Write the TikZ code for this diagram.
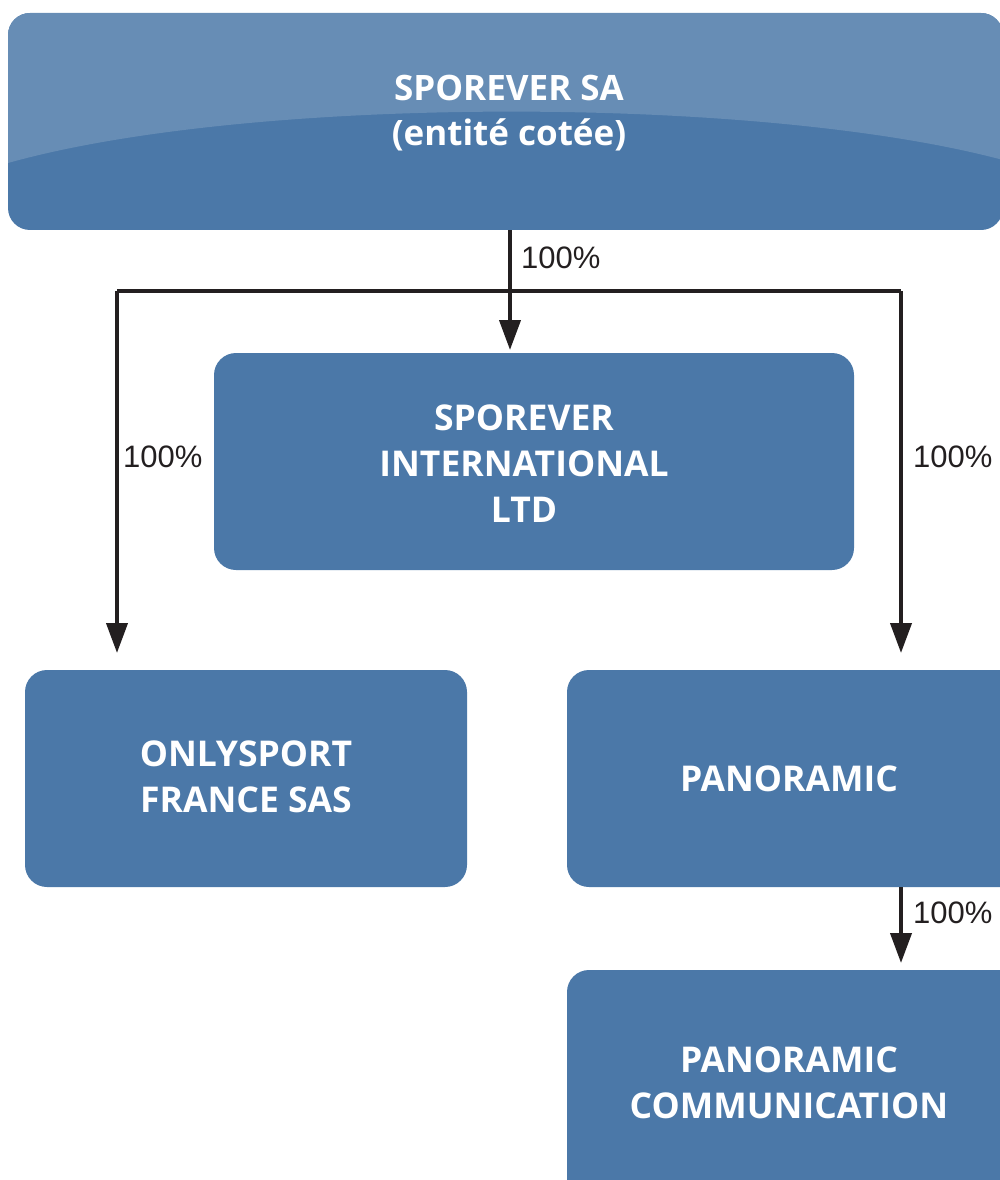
\documentclass[tikz,border=0pt]{standalone}
\usepackage{fontspec}
\setmainfont{Liberation Sans}
\newfontfamily\boxfont{Open Sans}
\usetikzlibrary{arrows.meta}
\definecolor{boxblue}{HTML}{4B78A8}
\definecolor{lightblue}{HTML}{678DB5}
\definecolor{arrowgray}{HTML}{231F20}
\begin{document}
\begin{tikzpicture}[x=1pt,y=-1pt,
  entity/.style={fill=boxblue, rounded corners=22pt, inner sep=0pt, text=white,
    font=\boxfont\bfseries\fontsize{35.5}{46}\selectfont, align=center},
  link/.style={draw=arrowgray, line width=4pt, -{Triangle[length=30pt,width=21pt]}},
  line/.style={draw=arrowgray, line width=4pt},
  pct/.style={font=\fontsize{31}{36}\selectfont, text=arrowgray, inner sep=0pt, anchor=west}]
\useasboundingbox (0,0) rectangle (999,1180);
% top box
\begin{scope}
\path[clip, rounded corners=22pt] (8,13) rectangle (1003,230);
\fill[boxblue] (8,13) rectangle (1003,230);
\fill[lightblue] (8,13) -- (8,163) .. controls (250,95) and (760,95) .. (1003,160) -- (1003,13) -- cycle;
\end{scope}
\node[font=\boxfont\bfseries\fontsize{35}{45}\selectfont, text=white, align=center] (top) at (509,113) {SPOREVER SA\\(entité cotée)};
\coordinate (topb) at (510,230);
% boxes
\path[entity] (214,353) rectangle (854,570);
\node[entity, fill=none] (intl) at (524,464) {SPOREVER\\INTERNATIONAL\\LTD};
\path[entity] (25,670) rectangle (467,887);
\node[entity, fill=none] (only) at (246,777) {ONLYSPORT\\FRANCE SAS};
\path[entity] (567,670) rectangle (1030,887);
\node[entity, fill=none] (pano) at (789,779) {PANORAMIC};
\path[entity] (567,970) rectangle (1030,1210);
\node[entity, fill=none] (panoc) at (789,1083) {PANORAMIC\\COMMUNICATION};
% connectors
\coordinate (hl) at (117,291);
\coordinate (hr) at (901,291);
\coordinate (tipm) at (510,350);
\coordinate (tipl) at (117,653);
\coordinate (tipr) at (901,653);
\coordinate (pb) at (901,887);
\coordinate (tipp) at (901,963);
\draw[line] (hl) -- (hr);
\draw[link] (topb) -- (tipm);
\draw[link] (hl) -- (tipl);
\draw[link] (hr) -- (tipr);
\draw[link] (pb) -- (tipp);
% labels
\node[pct] (l1) at (521,258) {100\%};
\node[pct] (l2) at (123,457) {100\%};
\node[pct] (l3) at (913,457) {100\%};
\node[pct] (l4) at (913,913) {100\%};
\end{tikzpicture}
\end{document}
